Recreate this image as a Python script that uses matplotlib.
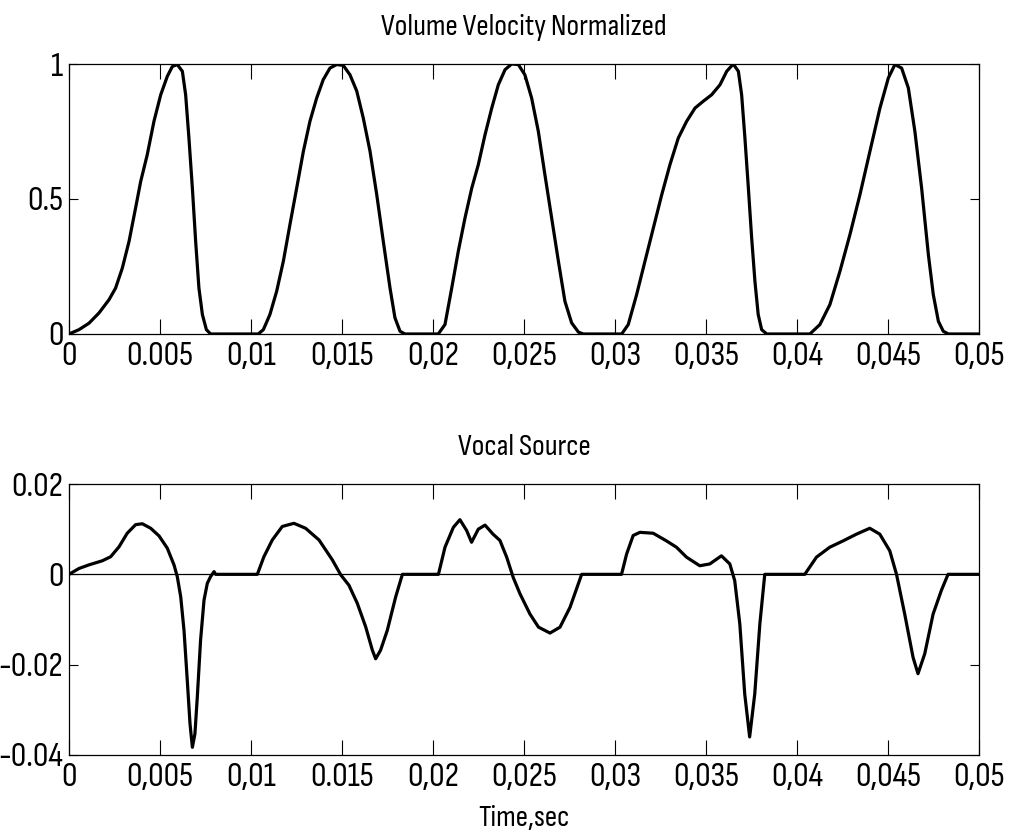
import matplotlib
matplotlib.use("Agg")
import matplotlib.pyplot as plt
from matplotlib import font_manager

# Glottal volume velocity (normalized) sampled along time, seconds
vv_time = [0.0, 0.00055, 0.0011, 0.00165, 0.0022, 0.00256, 0.00293, 0.0033, 0.00366, 0.00394,
           0.0043, 0.00467, 0.00504, 0.0054, 0.00568, 0.00595, 0.00623, 0.00641, 0.00659,
           0.00678, 0.00696, 0.00714, 0.00733, 0.00755, 0.00778,
           0.0104, 0.01068, 0.01104, 0.01141, 0.01178, 0.01214, 0.01251, 0.01288, 0.01324,
           0.01361, 0.01397, 0.01434, 0.01471, 0.01507, 0.01544, 0.01581, 0.01617, 0.01654,
           0.01691, 0.01727, 0.01764, 0.01791, 0.01819, 0.01846,
           0.02029, 0.02066, 0.02103, 0.02139, 0.02176, 0.02213, 0.02249, 0.02286, 0.02323,
           0.02359, 0.02396, 0.02432, 0.02469, 0.02505, 0.02542, 0.02579, 0.02615, 0.02652,
           0.02689, 0.02725, 0.02762, 0.02799, 0.02826,
           0.03037, 0.03073, 0.03119, 0.03165, 0.03211, 0.03257, 0.03302, 0.03348, 0.03394,
           0.0344, 0.03485, 0.03531, 0.03577, 0.03614, 0.0365, 0.03678, 0.03696, 0.03714,
           0.03733, 0.03751, 0.03769, 0.03787, 0.03806, 0.03834,
           0.04071, 0.04126, 0.04181, 0.04236, 0.04291, 0.04346, 0.04401, 0.04456, 0.04502,
           0.04538, 0.04575, 0.04612, 0.04648, 0.04685, 0.04722, 0.04749, 0.04777, 0.04804,
           0.04832, 0.05]
vv_value = [0.0, 0.016, 0.04, 0.078, 0.127, 0.17, 0.244, 0.343, 0.467, 0.565,
            0.664, 0.788, 0.886, 0.954, 0.991, 0.998, 0.973, 0.886, 0.726,
            0.54, 0.343, 0.17, 0.072, 0.016, 0.0,
            0.0, 0.016, 0.072, 0.158, 0.27, 0.405, 0.54, 0.677, 0.788,
            0.874, 0.942, 0.985, 0.998, 0.995, 0.96, 0.9, 0.8, 0.677,
            0.516, 0.343, 0.17, 0.06, 0.01, 0.0,
            0.0, 0.035, 0.17, 0.306, 0.43, 0.54, 0.627, 0.738, 0.837,
            0.923, 0.979, 1.0, 0.998, 0.96, 0.874, 0.75, 0.59, 0.43,
            0.27, 0.121, 0.041, 0.007, 0.0,
            0.0, 0.035, 0.146, 0.27, 0.393, 0.516, 0.627, 0.726, 0.788,
            0.837, 0.862, 0.886, 0.923, 0.973, 1.0, 0.973, 0.886, 0.726,
            0.54, 0.356, 0.195, 0.072, 0.016, 0.0,
            0.0, 0.035, 0.109, 0.232, 0.368, 0.516, 0.677, 0.837, 0.948,
            0.998, 0.985, 0.911, 0.75, 0.54, 0.294, 0.146, 0.047, 0.01,
            0.0, 0.0]

# Vocal source (derivative of the flow) sampled along time, seconds
vs_time = [0.0, 0.00055, 0.0011, 0.00183, 0.00229, 0.00275, 0.0032, 0.00366, 0.00403, 0.00449,
           0.00495, 0.0054, 0.00577, 0.00595, 0.00614, 0.00632, 0.0065, 0.00665, 0.00678,
           0.00692, 0.00705, 0.00723, 0.00742, 0.0076, 0.00778, 0.00797, 0.00806,
           0.01035, 0.01071, 0.01117, 0.01172, 0.01236, 0.013, 0.01374, 0.01447, 0.01493,
           0.01538, 0.01584, 0.0163, 0.01667, 0.01685, 0.01712, 0.01749, 0.01795, 0.01832,
           0.0203, 0.02066, 0.02112, 0.02148, 0.02185, 0.02212, 0.02249, 0.02286, 0.0233,
           0.02368, 0.02405, 0.02441, 0.02478, 0.02533, 0.0258, 0.02643, 0.02698, 0.02753, 0.02817,
           0.03036, 0.03064, 0.031, 0.03137, 0.0321, 0.03283, 0.03338, 0.03393, 0.03466,
           0.03521, 0.03585, 0.03631, 0.03658, 0.03686, 0.03713, 0.0374, 0.03768, 0.03796, 0.03823,
           0.04043, 0.04107, 0.0418, 0.04253, 0.04327, 0.044, 0.04455, 0.0451, 0.04547,
           0.04592, 0.04638, 0.04665, 0.04702, 0.04748, 0.04793, 0.0483, 0.05]
vs_value = [0.0, 0.0013, 0.0021, 0.003, 0.0039, 0.0061, 0.0091, 0.011, 0.0112, 0.0102,
            0.0085, 0.0058, 0.0021, -0.0005, -0.005, -0.0124, -0.0235, -0.0331, -0.0383,
            -0.0353, -0.0272, -0.0146, -0.0057, -0.002, -0.0005, 0.0006, 0.0,
            0.0, 0.0039, 0.0076, 0.0106, 0.0113, 0.0102, 0.0076, 0.0032, -0.0001,
            -0.0024, -0.0064, -0.0116, -0.0168, -0.0187, -0.0168, -0.0124, -0.005, 0.0,
            0.0, 0.006, 0.0104, 0.0121, 0.0097, 0.0071, 0.01, 0.0109, 0.0089,
            0.0075, 0.0038, -0.0007, -0.0043, -0.0088, -0.0117, -0.013, -0.0117, -0.0073, 0.0,
            0.0, 0.0045, 0.0086, 0.0093, 0.0091, 0.0074, 0.006, 0.0038, 0.0019,
            0.0023, 0.0041, 0.0023, -0.0014, -0.011, -0.0265, -0.036, -0.0265, -0.011, 0.0,
            0.0, 0.0038, 0.006, 0.0074, 0.0089, 0.0102, 0.0089, 0.0052, 0.0,
            -0.0088, -0.0184, -0.022, -0.0176, -0.0088, -0.0036, 0.0, 0.0]

x_ticks = [0, 0.005, 0.01, 0.015, 0.02, 0.025, 0.03, 0.035, 0.04, 0.045, 0.05]
x_labels_top = ["0", "0.005", "0,01", "0,015", "0,02", "0,025", "0,03", "0,035", "0,04", "0,045", "0,05"]
x_labels_bottom = ["0", "0,005", "0,01", "0.015", "0,02", "0,025", "0,03", "0,035", "0,04", "0,045", "0,05"]
y_ticks_top = [0, 0.5, 1]
y_labels_top = ["0", "0.5", "1"]
y_ticks_bottom = [-0.04, -0.02, 0, 0.02]
y_labels_bottom = ["-0.04", "-0.02", "0", "0.02"]


def pick_family():
    for name in ["Sofia Sans Condensed", "Roboto Condensed", "Liberation Sans Narrow",
                 "Liberation Sans", "DejaVu Sans"]:
        try:
            font_manager.findfont(name, fallback_to_default=False)
            return name
        except ValueError:
            continue
    return "DejaVu Sans"


plt.rcParams["font.family"] = [pick_family(), "DejaVu Sans"]
FS = 25          # tick labels
FS_TITLE = 22    # subplot titles
FS_LABEL = 22    # x-axis label

fig = plt.figure(figsize=(10.13, 8.4), dpi=100)
left, width = 0.0681, 0.8983
ax1 = fig.add_axes([left, 0.6024, width, 0.3214])
ax2 = fig.add_axes([left, 0.1012, width, 0.3226])


def style(ax, yticks, ylabels, xlabels):
    ax.set_xlim(0, 0.05)
    ax.set_xticks(x_ticks)
    ax.set_xticklabels(xlabels)
    ax.set_yticks(yticks)
    ax.set_yticklabels(ylabels)
    ax.tick_params(axis="x", direction="in", length=11, width=0.8, top=True,
                   labelsize=FS, pad=6)
    ax.tick_params(axis="y", direction="in", length=6.5, width=0.8, right=True,
                   labelsize=FS, pad=4)
    for sp in ax.spines.values():
        sp.set_linewidth(0.9)
        sp.set_color("black")


ax1.plot(vv_time, vv_value, color="black", lw=2.3, solid_joinstyle="round")
ax1.set_ylim(0, 1)
style(ax1, y_ticks_top, y_labels_top, x_labels_top)
ax1.set_title("Volume Velocity Normalized", fontsize=FS_TITLE, pad=21)

ax2.axhline(0, color="black", lw=0.9)
ax2.plot(vs_time, vs_value, color="black", lw=2.3, solid_joinstyle="round")
ax2.set_ylim(-0.04, 0.02)
style(ax2, y_ticks_bottom, y_labels_bottom, x_labels_bottom)
ax2.set_title("Vocal Source", fontsize=FS_TITLE, pad=21)
ax2.set_xlabel("Time,sec", fontsize=FS_LABEL, labelpad=9)

fig.savefig("out.png", dpi=100, facecolor="white")
